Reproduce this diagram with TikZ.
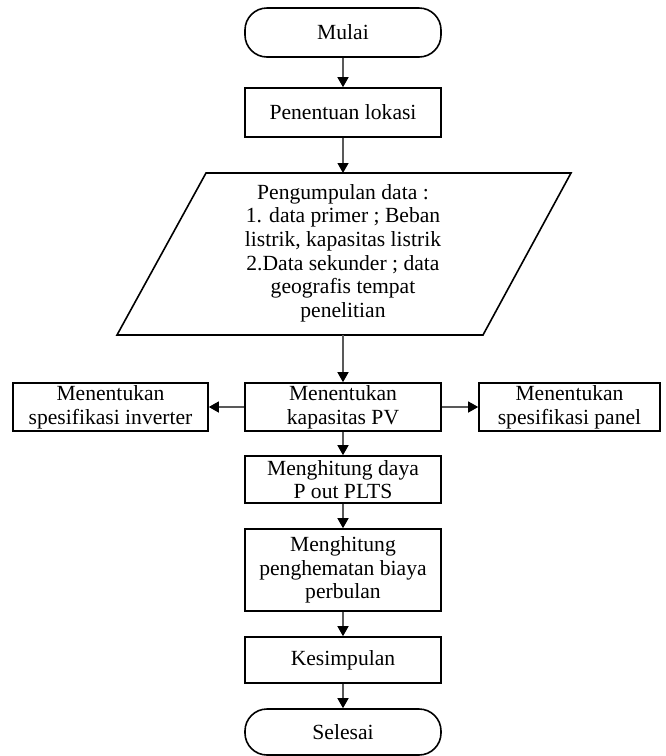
\documentclass[tikz,border=0pt]{standalone}
\usepackage{fontspec}
\setmainfont{Liberation Serif}
\usepackage{tikz}
\usetikzlibrary{arrows.meta,positioning,calc}

\begin{document}
\begin{tikzpicture}[x=1pt,y=-1pt,
    box/.style={draw,line width=1.6pt,rectangle,inner sep=0pt,align=center,
        font=\fontsize{21.6}{23.6}\selectfont},
    term/.style={box,rounded corners=22pt},
    arr/.style={-{Triangle[width=11pt,length=10pt,color=black]},line width=1.3pt,draw=black!65}]

    \useasboundingbox (0,0) rectangle (665,756);

    \node[term,minimum width=196,minimum height=49](mulai) at (343,32.5) {Mulai};
    \node[box,minimum width=196,minimum height=49](lokasi) at (343,112.5) {Penentuan lokasi};

    % parallelogram
    \coordinate (pgtop) at (343,173);
    \coordinate (pgbot) at (343,335);
    \draw[line width=1.6pt] (117,335) -- (206,173) -- (571,173) -- (483,335) -- cycle;
    \node[align=center,font=\fontsize{21.6}{23.6}\selectfont](data) at (343,253) {Pengumpulan data :\\1. data primer ; Beban\\listrik, kapasitas listrik\\2.Data sekunder ; data\\geografis tempat\\penelitian};

    \node[box,minimum width=196,minimum height=48](kap) at (343,407) {Menentukan\\kapasitas PV};
    \node[box,minimum width=195,minimum height=48](inv) at (110.5,407) {Menentukan\\spesifikasi inverter};
    \node[box,minimum width=181,minimum height=48](panel) at (569.5,407) {Menentukan\\spesifikasi panel};

    \node[box,minimum width=196,minimum height=47](daya) at (343,479.5) {Menghitung daya\\P out PLTS};
    \node[box,minimum width=196,minimum height=82](hemat) at (343,570) {Menghitung\\penghematan biaya\\perbulan};
    \node[box,minimum width=196,minimum height=46](kes) at (343,660) {Kesimpulan};
    \node[term,minimum width=196,minimum height=46](selesai) at (343,732) {Selesai};

    \draw[arr] (mulai) -- (lokasi);
    \draw[arr] (lokasi) -- (pgtop);
    \draw[arr] (pgbot) -- (kap);
    \draw[arr] (kap) -- (inv);
    \draw[arr] (kap) -- (panel);
    \draw[arr] (kap) -- (daya);
    \draw[arr] (daya) -- (hemat);
    \draw[arr] (hemat) -- (kes);
    \draw[arr] (kes) -- (selesai);

\end{tikzpicture}
\end{document}
